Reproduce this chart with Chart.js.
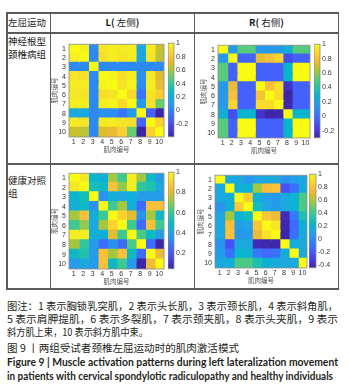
<!DOCTYPE html>
<html>
<head>
<meta charset="utf-8">
<script src="https://cdn.jsdelivr.net/npm/chart.js@4.4.0/dist/chart.umd.min.js"></script>
<style>
  body { margin: 0; width: 349px; height: 389px; background: #fff; position: relative; overflow: hidden;
         font-family: "Noto Sans CJK SC", sans-serif; color: #1a1a1a; }
  .ln { position: absolute; background: #5a5a5a; }
  .tx { position: absolute; white-space: nowrap; font-size: 9.5px; line-height: 13px; }
  .cap { position: absolute; left: 7px; white-space: nowrap; line-height: 13px; font-size: 10.5px; color: #231f20; }
  .cap span { display: inline-block; transform-origin: 0 50%; }
  .en { font-family: Lato, "Noto Sans", sans-serif; font-weight: bold; }
</style>
</head>
<body>

<!-- table frame -->
<div class="ln" style="left:6px;top:12px;width:333px;height:1.5px"></div>
<div class="ln" style="left:6px;top:32px;width:333px;height:1.5px"></div>
<div class="ln" style="left:6px;top:163px;width:333px;height:1.5px"></div>
<div class="ln" style="left:6px;top:288px;width:333px;height:1.5px"></div>
<div class="ln" style="left:6px;top:12px;width:1.5px;height:277px"></div>
<div class="ln" style="left:49.5px;top:12px;width:1.5px;height:277px"></div>
<div class="ln" style="left:193.5px;top:12px;width:1.5px;height:277px"></div>
<div class="ln" style="left:337.5px;top:12px;width:1.5px;height:277px"></div>

<div class="tx" style="left:8px;top:16px">左屈运动</div>
<div class="tx" style="left:51px;width:143px;top:16px;text-align:center"><b>L(</b> 左侧<b>)</b></div>
<div class="tx" style="left:195px;width:143px;top:16px;text-align:center"><b>R(</b> 右侧<b>)</b></div>
<div class="tx" style="left:8px;top:35px">神经根型<br>颈椎病组</div>
<div class="tx" style="left:8px;top:174px">健康对照<br>组</div>

<!-- caption -->
<div class="cap" style="top:299px"><span data-w="331">图注：1 表示胸锁乳突肌，2 表示头长肌，3 表示颈长肌，4 表示斜角肌，</span></div>
<div class="cap" style="top:312px"><span data-w="331">5 表示肩胛提肌，6 表示多裂肌，7 表示颈夹肌，8 表示头夹肌，9 表示</span></div>
<div class="cap" style="top:325px"><span data-w="141">斜方肌上束，10 表示斜方肌中束。</span></div>
<div class="cap" style="top:341px"><span data-w="232">图 9 丨两组受试者颈椎左屈运动时的肌肉激活模式</span></div>
<div class="cap en" style="top:356px"><span data-w="331">Figure 9 | Muscle activation patterns during left lateralization movement</span></div>
<div class="cap en" style="top:370px"><span data-w="326">in patients with cervical spondylotic radiculopathy and healthy individuals</span></div>

<script>
const muscles = ['1', '2', '3', '4', '5', '6', '7', '8', '9', '10'];

// 神经根型颈椎病组, L(左侧)
const patientLeft = [
  [1.00, 0.96, 0.02, 0.92, 0.95, 0.93, 0.95, 0.15, 0.94, 0.65],
  [0.96, 1.00, 0.02, 0.90, 0.95, 0.92, 0.95, 0.15, 0.92, 0.63],
  [0.02, 0.02, 1.00, 0.02, 0.02, 0.02, 0.02, 0.02, 0.02, 0.02],
  [0.92, 0.90, 0.02, 1.00, 0.97, 0.90, 0.95, 0.05, 0.93, 0.70],
  [0.95, 0.95, 0.02, 0.97, 1.00, 0.92, 0.97, 0.04, 0.95, 0.72],
  [0.93, 0.92, 0.02, 0.90, 0.92, 1.00, 0.88, -0.06, 0.92, 0.84],
  [0.95, 0.95, 0.02, 0.95, 0.97, 0.88, 1.00, 0.09, 0.90, 0.50],
  [0.15, 0.15, 0.02, 0.05, 0.04, -0.06, 0.09, 1.00, -0.12, -0.39],
  [0.94, 0.92, 0.02, 0.93, 0.95, 0.92, 0.90, -0.12, 1.00, 0.85],
  [0.65, 0.63, 0.02, 0.70, 0.72, 0.84, 0.50, -0.39, 0.85, 1.00]
];

// 神经根型颈椎病组, R(右侧)
const patientRight = [
  [1.00, 0.15, 0.50, 0.50, 0.15, 0.15, 0.15, 0.25, 0.50, 0.50],
  [0.15, 1.00, -0.06, -0.06, 0.74, 0.80, 0.87, -0.14, -0.06, -0.06],
  [0.50, -0.06, 1.00, 1.00, -0.06, -0.06, -0.06, 0.28, 1.00, 1.00],
  [0.50, -0.06, 1.00, 1.00, -0.06, -0.06, -0.06, 0.28, 1.00, 1.00],
  [0.15, 0.74, -0.06, -0.06, 1.00, 0.80, 0.90, -0.24, -0.06, -0.06],
  [0.15, 0.80, -0.06, -0.06, 0.80, 1.00, 0.90, -0.30, -0.06, -0.06],
  [0.15, 0.87, -0.06, -0.06, 0.90, 0.90, 1.00, -0.29, -0.06, -0.06],
  [0.25, -0.14, 0.28, 0.28, -0.24, -0.30, -0.29, 1.00, 0.28, 0.28],
  [0.50, -0.06, 1.00, 1.00, -0.06, -0.06, -0.06, 0.28, 1.00, 1.00],
  [0.50, -0.06, 1.00, 1.00, -0.06, -0.06, -0.06, 0.28, 1.00, 1.00]
];

// 健康对照组, L(左侧)
const healthyLeft = [
  [1.00, 0.95, 0.48, 0.45, 0.72, 0.60, 0.97, 0.72, 0.50, 0.38],
  [0.95, 1.00, 0.52, 0.50, 0.85, 0.70, 0.97, 0.58, 0.55, 0.42],
  [0.48, 0.52, 1.00, 0.36, 0.45, 0.42, 0.45, 0.38, 0.38, 0.38],
  [0.45, 0.50, 0.36, 1.00, 0.60, 0.72, 0.45, 0.25, 0.85, 0.85],
  [0.72, 0.85, 0.45, 0.60, 1.00, 0.90, 0.80, 0.35, 0.72, 0.50],
  [0.60, 0.70, 0.42, 0.72, 0.90, 1.00, 0.60, 0.25, 0.85, 0.60],
  [0.97, 0.97, 0.45, 0.45, 0.80, 0.60, 1.00, 0.62, 0.50, 0.38],
  [0.72, 0.58, 0.38, 0.25, 0.35, 0.25, 0.62, 1.00, 0.25, 0.05],
  [0.50, 0.55, 0.38, 0.85, 0.72, 0.85, 0.50, 0.25, 1.00, 0.82],
  [0.38, 0.42, 0.38, 0.85, 0.50, 0.60, 0.38, 0.05, 0.82, 1.00]
];

// 健康对照组, R(右侧)
const healthyRight = [
  [1.00, 0.12, 0.12, 0.03, 0.10, 0.12, 0.12, 0.02, 0.06, 0.12],
  [0.12, 1.00, 0.15, 0.18, 0.57, 0.76, 0.78, -0.25, -0.12, 0.15],
  [0.12, 0.15, 1.00, 0.82, 0.18, 0.07, 0.04, 0.12, 0.20, 0.42],
  [0.03, 0.18, 0.82, 1.00, 0.25, 0.10, 0.06, 0.12, 0.18, 0.42],
  [0.10, 0.57, 0.18, 0.25, 1.00, 0.80, 0.72, -0.42, -0.10, 0.30],
  [0.12, 0.76, 0.07, 0.10, 0.80, 1.00, 0.92, -0.44, -0.15, 0.18],
  [0.12, 0.78, 0.04, 0.06, 0.72, 0.92, 1.00, -0.45, -0.12, 0.14],
  [0.02, -0.25, 0.12, 0.12, -0.42, -0.44, -0.45, 1.00, 0.15, 0.12],
  [0.06, -0.12, 0.20, 0.18, -0.10, -0.15, -0.12, 0.15, 1.00, 0.12],
  [0.12, 0.15, 0.42, 0.42, 0.30, 0.18, 0.14, 0.12, 0.12, 1.00]
];

// colorbar tick labels
const ticksPL = [-0.2, 0, 0.2, 0.4, 0.6, 0.8, 1];
const ticksPR = [-0.2, 0, 0.2, 0.4, 0.6, 0.8, 1];
const ticksHL = [0.2, 0.4, 0.6, 0.8, 1];
const ticksHR = [-0.4, -0.2, 0, 0.2, 0.4, 0.6, 0.8, 1];

// parula, every 4th entry of the 64 colour map
const parulaStops = [
  [0.2422, 0.1504, 0.6603], [0.2706, 0.2147, 0.8364], [0.2813, 0.3006, 0.9414], [0.2699, 0.3892, 0.9906],
  [0.1963, 0.4847, 0.9892], [0.1687, 0.5703, 0.9359], [0.1248, 0.6459, 0.8883], [0.0297, 0.7082, 0.8163],
  [0.0964, 0.7500, 0.7120], [0.2161, 0.7843, 0.5923], [0.3909, 0.8029, 0.4354], [0.6174, 0.7876, 0.2612],
  [0.8203, 0.7498, 0.1535], [0.9728, 0.7298, 0.2394], [0.9892, 0.8136, 0.1885], [0.9597, 0.9135, 0.1423],
  [0.9769, 0.9839, 0.0805]
];

function parula(t) {
  t = Math.min(1, Math.max(0, t)) * 63;
  const pos = parulaStops.map((s, i) => Math.min(i * 4, 63));
  let k = 0;
  while (k < pos.length - 2 && t > pos[k + 1]) k++;
  const f = (t - pos[k]) / (pos[k + 1] - pos[k]);
  const a = parulaStops[k], b = parulaStops[k + 1];
  const c = a.map((v, i) => Math.round(255 * (v + (b[i] - v) * f)));
  return `rgb(${c[0]},${c[1]},${c[2]})`;
}

const tickFont = { family: 'Liberation Sans, Arial, sans-serif', size: 7 };
const titleFont = { family: 'Noto Sans CJK SC', size: 6.5 };

const frame = {
  id: 'frame',
  afterDraw(c) {
    const a = c.chartArea, ctx = c.ctx;
    ctx.save();
    ctx.strokeStyle = '#8a8a8a';
    ctx.lineWidth = 0.8;
    ctx.strokeRect(a.left, a.top, a.right - a.left, a.bottom - a.top);
    ctx.restore();
  }
};

function place(x, y, w, h) {
  const c = document.createElement('canvas');
  c.width = w; c.height = h;
  c.style.cssText = `position:absolute;left:${x}px;top:${y}px;width:${w}px;height:${h}px`;
  document.body.appendChild(c);
  return c;
}

// cells: one floating-bar dataset per column, bars overlap a little so no seams show
const cellBar = { borderWidth: 0, inflateAmount: 1, barPercentage: 1, categoryPercentage: 1, grouped: false };

function heatmap(m, px, py, pw, ph, lo, hi) {
  const cv = place(px - 20, py - 6, pw + 24, ph + 26);
  const datasets = muscles.map((name, j) => Object.assign({
    data: m.map(() => [j + 0.5, j + 1.5]),
    backgroundColor: m.map(row => parula((row[j] - lo) / (hi - lo)))
  }, cellBar));
  new Chart(cv, {
    type: 'bar',
    data: { labels: muscles, datasets },
    options: {
      indexAxis: 'y',
      responsive: false,
      animation: false,
      layout: { padding: { left: 0, top: 6, right: 4, bottom: 0 } },
      plugins: { legend: { display: false }, tooltip: { enabled: false } },
      scales: {
        x: {
          type: 'linear', min: 0.5, max: 10.5,
          grid: { display: false, drawTicks: false }, border: { display: false },
          afterBuildTicks: s => { s.ticks = muscles.map((n, i) => ({ value: i + 1 })); },
          ticks: { padding: 1, font: tickFont, color: '#333', maxRotation: 0, autoSkip: false,
                   callback: v => muscles[v - 1] },
          title: { display: true, text: '肌肉编号', font: titleFont, color: '#555', padding: { top: 0, bottom: 4 } },
          afterFit: s => { s.height = 20; }
        },
        y: {
          type: 'category', offset: true,
          grid: { display: false, drawTicks: false }, border: { display: false },
          ticks: { padding: 3, font: tickFont, color: '#333', autoSkip: false },
          title: { display: true, text: '肌肉编号', font: titleFont, color: '#555', padding: { top: 1.5, bottom: 0 } },
          afterFit: s => { s.width = 20; }
        }
      }
    },
    plugins: [frame]
  });
}

function colorbar(cx, cw, py, ph, lo, hi, ticks) {
  const cv = place(cx, py - 6, cw + 22, ph + 12);
  const steps = 64;
  const datasets = [];
  for (let k = 0; k < steps; k++) {
    datasets.push(Object.assign({
      data: [[lo + (hi - lo) * k / steps, lo + (hi - lo) * (k + 1) / steps]],
      backgroundColor: parula((k + 0.5) / steps)
    }, cellBar, { inflateAmount: 0.5 }));
  }
  new Chart(cv, {
    type: 'bar',
    data: { labels: [''], datasets },
    options: {
      responsive: false,
      animation: false,
      layout: { padding: { left: 0, top: 6, right: 0, bottom: 6 } },
      plugins: { legend: { display: false }, tooltip: { enabled: false } },
      scales: {
        x: { display: false },
        y: {
          position: 'right', min: lo, max: hi,
          grid: { display: false, drawTicks: false }, border: { display: false },
          afterBuildTicks: s => { s.ticks = ticks.map(v => ({ value: v })); },
          ticks: { padding: 2, font: tickFont, color: '#333', callback: v => String(+v.toFixed(1)) },
          afterFit: s => { s.width = 22; }
        }
      }
    },
    plugins: [frame]
  });
}

function panel(m, ticks, px, py, pw, ph, cx, cw) {
  const flat = m.flat();
  const lo = Math.min(...flat), hi = Math.max(...flat);
  heatmap(m, px, py, pw, ph, lo, hi);
  colorbar(cx, cw, py, ph, lo, hi, ticks);
}

panel(patientLeft, ticksPL, 69, 43, 95, 94, 168, 6);
panel(patientRight, ticksPR, 218, 44, 92, 94, 314, 6);
panel(healthyLeft, ticksHL, 69, 172, 95, 97, 168, 6);
panel(healthyRight, ticksHR, 215, 174, 92, 94, 309, 7);

function fitCaption() {
  document.querySelectorAll('.cap span').forEach(el => {
    el.style.transform = 'none';
    const nat = el.getBoundingClientRect().width;
    el.style.transform = `scaleX(${+el.dataset.w / nat})`;
  });
}
fitCaption();
document.fonts.ready.then(fitCaption);
</script>
</body>
</html>
